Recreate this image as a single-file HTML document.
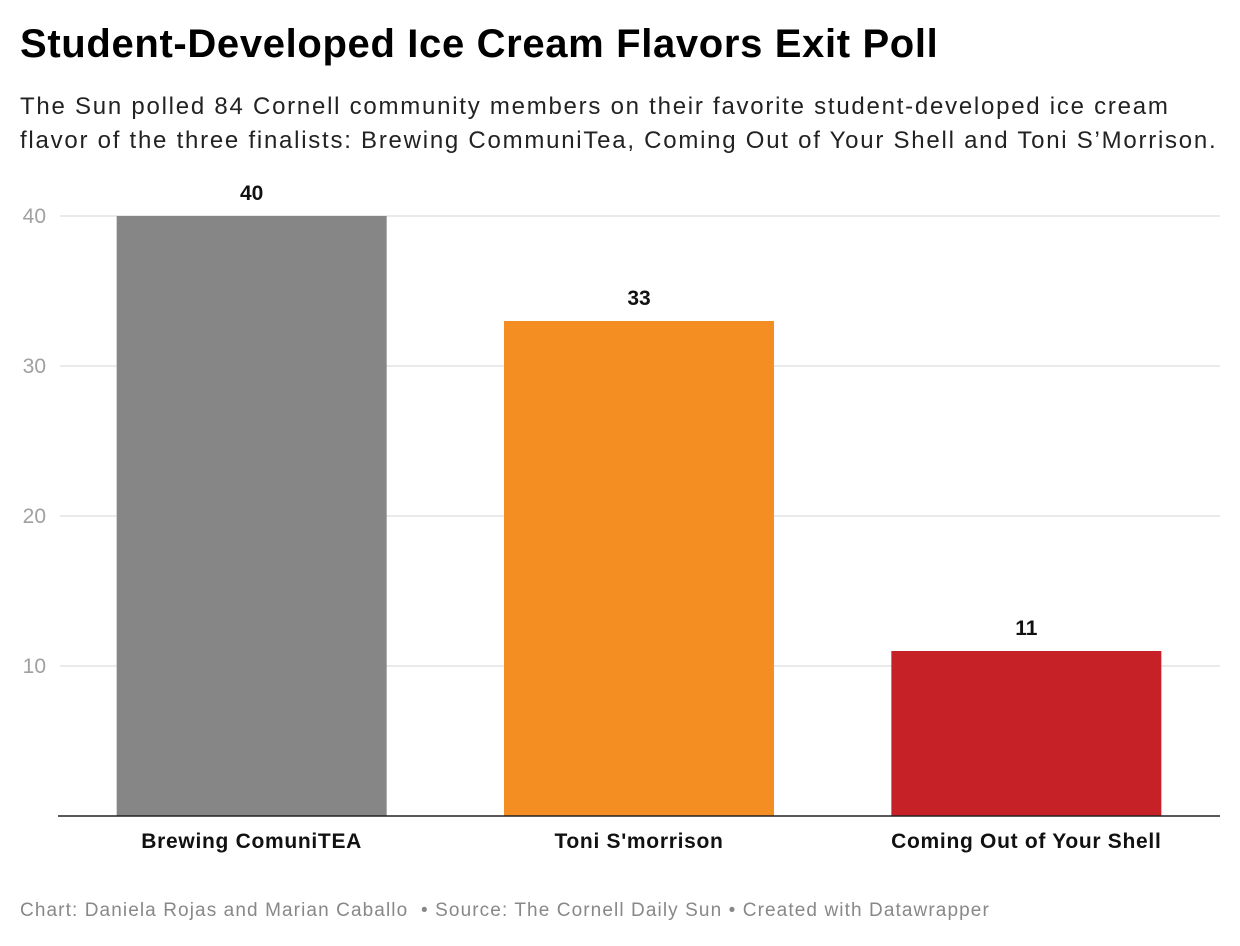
<!DOCTYPE html>
<html><head><meta charset="utf-8">
<style>
body{margin:0;width:1240px;height:946px;background:#fff;font-family:"Liberation Sans",Arial,sans-serif;overflow:hidden;position:relative}
#title{position:absolute;left:20px;top:22px;font-size:40px;font-weight:bold;color:#000;margin:0;letter-spacing:0.65px}
#subtitle{position:absolute;left:20px;top:90px;font-size:24px;line-height:34px;color:#222;width:1220px;letter-spacing:1.75px;white-space:nowrap}
#footer{position:absolute;left:20px;top:900px;font-size:19px;color:#888;letter-spacing:1.1px}
svg{position:absolute;left:0;top:0}
</style></head><body>
<h1 id="title">Student-Developed Ice Cream Flavors Exit Poll</h1>
<div id="subtitle">The Sun polled 84 Cornell community members on their favorite student-developed ice cream<br>flavor of the three finalists: Brewing CommuniTea, Coming Out of Your Shell and Toni S’Morrison.</div>
<svg id="chart" width="1240" height="946"></svg>
<div id="footer">Chart: Daniela Rojas and Marian Caballo &nbsp;• Source: The Cornell Daily Sun • Created with Datawrapper</div>
<script>
const categories=["Brewing ComuniTEA","Toni S'morrison","Coming Out of Your Shell"];
const values=[40,33,11];
const colors=["#868686","#f48d22","#c72128"];
const ticks=[10,20,30,40];
const NS="http://www.w3.org/2000/svg";
const svg=document.getElementById('chart');
const x0=58,x1=1220,yBase=816,yTop=216,yMax=40;
const y=v=>yBase-(v/yMax)*(yBase-yTop);
const band=(x1-x0)/categories.length,bw=270;
const bx=i=>x0+band*i+(band-bw)/2;
function mk(t,a){const e=document.createElementNS(NS,t);for(const k in a)e.setAttribute(k,a[k]);svg.appendChild(e);return e;}
ticks.forEach(t=>{
 const l=mk('line',{x1:60,x2:x1,y1:y(t),y2:y(t),stroke:'#e3e3e3','stroke-width':1.5});
 
 
 const tx=mk('text',{x:46,y:y(t)+7,'text-anchor':'end','font-size':21,fill:'#a0a0a0','font-family':'Liberation Sans, Arial, sans-serif'});
 tx.textContent=t;
 
 
});
values.forEach((v,i)=>{
 const r=mk('rect',{x:bx(i),y:y(v),width:bw,height:yBase-y(v),fill:colors[i]});
 
 
 const vl=mk('text',{x:bx(i)+bw/2,y:y(v)-16,'text-anchor':'middle','font-size':21,'font-weight':'bold',fill:'#111','font-family':'Liberation Sans, Arial, sans-serif'});
 vl.textContent=v;
 
 
 const cl=mk('text',{x:bx(i)+bw/2,y:yBase+32,'text-anchor':'middle','font-size':21,'font-weight':'bold','letter-spacing':0.7,fill:'#111','font-family':'Liberation Sans, Arial, sans-serif'});
 cl.textContent=categories[i];
 
 
});
const ax=mk('line',{x1:x0,x2:x1,y1:yBase,y2:yBase,stroke:'#222','stroke-width':1.5});


</script>
</body></html>
